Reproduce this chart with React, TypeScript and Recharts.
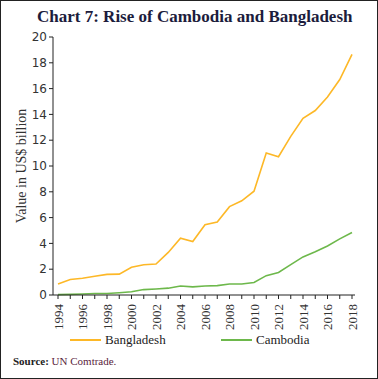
import { Line, LineChart, XAxis, YAxis } from "recharts";

const years = [
  1994, 1995, 1996, 1997, 1998, 1999, 2000, 2001, 2002, 2003, 2004, 2005, 2006,
  2007, 2008, 2009, 2010, 2011, 2012, 2013, 2014, 2015, 2016, 2017, 2018,
];
const bangladesh = [
  0.85, 1.2, 1.3, 1.45, 1.6, 1.62, 2.15, 2.35, 2.4, 3.3, 4.4, 4.15, 5.45, 5.65,
  6.85, 7.3, 8.05, 11.0, 10.72, 12.3, 13.7, 14.3, 15.35, 16.7, 18.65,
];
const cambodia = [
  0.03, 0.05, 0.08, 0.12, 0.12, 0.18, 0.25, 0.42, 0.47, 0.53, 0.7, 0.63, 0.7,
  0.73, 0.85, 0.85, 0.97, 1.5, 1.75, 2.35, 2.95, 3.35, 3.8, 4.35, 4.85,
];
const yTicks = [0, 2, 4, 6, 8, 10, 12, 14, 16, 18, 20];

const ORANGE = "#FDB827";
const GREEN = "#6DB84B";
const SERIF = "'Liberation Serif', serif";

const data = years.map((y, i) => ({
  year: y,
  Bangladesh: bangladesh[i],
  Cambodia: cambodia[i],
}));

function YearTick(props: any) {
  const { x, y, payload } = props;
  if (payload.value % 2 !== 0) return null;
  return (
    <text
      x={0}
      y={0}
      transform={`translate(${x},${y + 3}) rotate(-90)`}
      textAnchor="end"
      dy="0.35em"
      fontFamily={SERIF}
      fontSize={13}
      fill="#333"
    >
      {payload.value}
    </text>
  );
}

function LegendItem({ color, name }: { color: string; name: string }) {
  return (
    <div style={{ display: "flex", alignItems: "center" }}>
      <div style={{ width: 31, height: 2, background: color, marginRight: 4 }} />
      <span>{name}</span>
    </div>
  );
}

export default function App() {
  return (
    <div
      style={{
        position: "absolute",
        left: 0,
        top: 0,
        width: 376,
        height: 377,
        border: "1px solid #222",
        background: "#fff",
        overflow: "hidden",
      }}
    >
      <div
        style={{
          position: "absolute",
          left: 36,
          top: 6,
          fontFamily: SERIF,
          fontWeight: "bold",
          fontSize: 17,
          color: "#1c1c3c",
          whiteSpace: "nowrap",
        }}
      >
        Chart 7: Rise of Cambodia and Bangladesh
      </div>
      <div style={{ position: "absolute", left: -1, top: -1 }}>
        <LineChart
          width={378}
          height={330}
          data={data}
          margin={{ top: 37, right: 23, bottom: 0, left: 0 }}
        >
          <XAxis
            dataKey="year"
            type="number"
            domain={[1994, 2018]}
            ticks={years}
            interval={0}
            padding={{ left: 5, right: 3 }}
            height={35}
            stroke="#222"
            tickSize={4}
            tick={<YearTick />}
          />
          <YAxis
            domain={[0, 20]}
            ticks={yTicks}
            width={53}
            stroke="#222"
            tickSize={4}
            tick={{ fontFamily: "'DejaVu Sans', sans-serif", fontSize: 12, fill: "#333" }}
            label={{
              value: "Value in US$ billion",
              angle: -90,
              position: "insideLeft",
              offset: 21,
              style: { fontFamily: SERIF, fontSize: 14, fill: "#333", textAnchor: "middle" },
            }}
          />
          <Line
            dataKey="Bangladesh"
            stroke={ORANGE}
            strokeWidth={1.6}
            dot={false}
            isAnimationActive={false}
          />
          <Line
            dataKey="Cambodia"
            stroke={GREEN}
            strokeWidth={1.6}
            dot={false}
            isAnimationActive={false}
          />
        </LineChart>
      </div>
      <div
        style={{
          position: "absolute",
          left: 69,
          top: 331,
          display: "flex",
          fontFamily: SERIF,
          fontSize: 13,
          color: "#222",
        }}
      >
        <div style={{ width: 151 }}>
          <LegendItem color={ORANGE} name="Bangladesh" />
        </div>
        <LegendItem color={GREEN} name="Cambodia" />
      </div>
      <div
        style={{
          position: "absolute",
          left: 12,
          top: 354,
          fontFamily: SERIF,
          fontSize: 11,
          color: "#222",
        }}
      >
        <b>Source:</b> <span style={{ color: "#5a1e3c" }}>UN Comtrade.</span>
      </div>
    </div>
  );
}
